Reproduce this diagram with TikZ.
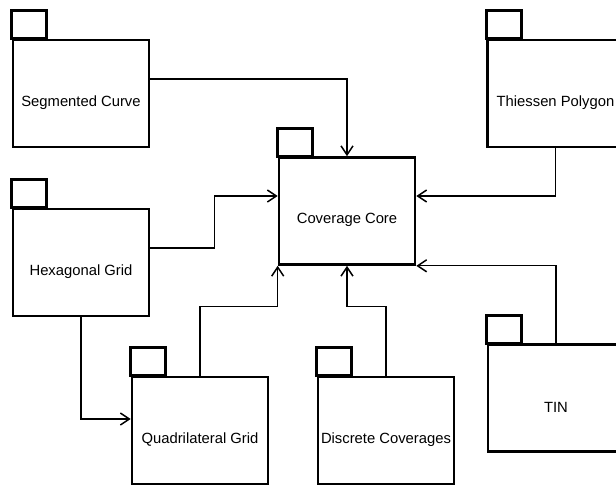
\documentclass[tikz,border=0pt]{standalone}
\usepackage{fontspec}
\setmainfont{Liberation Sans}
\usetikzlibrary{arrows.meta}
\tikzset{
  pkg/.style={draw, line width=2.6pt, minimum width=136, minimum height=107, inner sep=0pt},
  pkgtab/.style={draw, line width=2.6pt},
  pkgname/.style={font=\fontsize{14.8}{17}\selectfont, yshift=-9},
  dep/.style={line width=1.3pt, -{Straight Barb[length=9pt,width=12pt,line width=1.5pt]}},
}
\begin{document}
\begin{tikzpicture}[x=1pt,y=-1pt]
        \useasboundingbox (0,0) rectangle (616,485);
        \clip (0,0) rectangle (616,485);
        \node[pkg, label={[pkgname]center:Segmented Curve}] (seg) at (81,93.5) {};
        \node[pkg, label={[pkgname]center:Thiessen Polygon}] (thi) at (555.5,93.5) {};
        \node[pkg, label={[pkgname]center:Hexagonal Grid}] (hex) at (81,262.5) {};
        \node[pkg, label={[pkgname]center:Coverage Core}] (core) at (347,211) {};
        \node[pkg, label={[pkgname]center:Quadrilateral Grid}] (quad) at (200,430.5) {};
        \node[pkg, label={[pkgname]center:Discrete Coverages}] (disc) at (386,430.5) {};
        \node[pkg, label={[pkgname]center:TIN}] (tin) at (556,398) {};
        \foreach \p in {seg,thi,hex,core,quad,disc,tin}
            \draw[pkgtab] (\p.north west) rectangle ++(35,-28);
        \draw[dep] ([yshift=14.5]seg.east) -| (core.north);
        \draw[dep] (thi.south) |- ([yshift=15]core.east);
        \draw[dep] ([yshift=14.5]hex.east) -- ++(64,0) |- ([yshift=15]core.west);
        \draw[dep, line width=2.2pt] (hex.south) |- ([yshift=11.5]quad.west);
        \draw[dep] (quad.north) -- ++(0,-69) -| (core.south west);
        \draw[dep] (disc.north) -- ++(0,-69) -| (core.south);
        \draw[dep] (tin.north) |- (core.south east);
    \end{tikzpicture}
\end{document}
